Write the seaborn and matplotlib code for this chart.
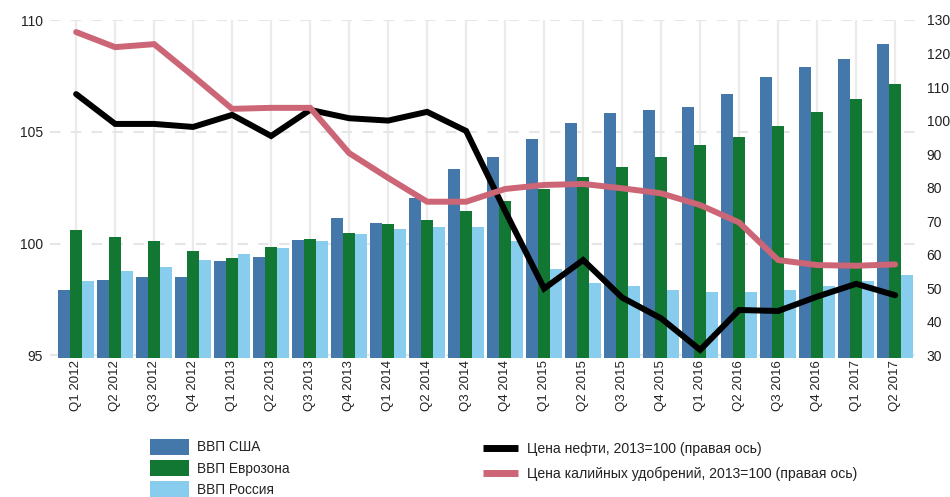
import matplotlib
matplotlib.use("Agg")
import matplotlib.pyplot as plt
import seaborn as sns
import pandas as pd
import numpy as np
from matplotlib.patches import Patch
from matplotlib.lines import Line2D

quarters = ["Q1 2012", "Q2 2012", "Q3 2012", "Q4 2012",
            "Q1 2013", "Q2 2013", "Q3 2013", "Q4 2013",
            "Q1 2014", "Q2 2014", "Q3 2014", "Q4 2014",
            "Q1 2015", "Q2 2015", "Q3 2015", "Q4 2015",
            "Q1 2016", "Q2 2016", "Q3 2016", "Q4 2016",
            "Q1 2017", "Q2 2017"]

gdp_usa = [97.93, 98.37, 98.51, 98.51, 99.22, 99.40, 100.16, 101.15, 100.93, 102.04, 103.34,
           103.88, 104.69, 105.40, 105.85, 105.99, 106.12, 106.70, 107.46, 107.91, 108.27, 108.94]
gdp_euro = [100.61, 100.30, 100.12, 99.67, 99.36, 99.85, 100.21, 100.48, 100.88, 101.06, 101.46,
            101.91, 102.43, 102.99, 103.43, 103.88, 104.42, 104.78, 105.27, 105.90, 106.48, 107.15]
gdp_russia = [98.33, 98.78, 98.96, 99.27, 99.54, 99.81, 100.12, 100.43, 100.66, 100.75, 100.75,
              100.12, 98.87, 98.24, 98.10, 97.93, 97.84, 97.84, 97.93, 98.10, 98.33, 98.60]

oil = [107.9, 99.0, 99.0, 98.1, 101.7, 95.4, 103.2, 100.7, 100.0, 102.6, 96.9,
       73.0, 49.9, 58.4, 47.2, 41.0, 31.6, 43.5, 43.2, 47.5, 51.3, 47.9]
potash = [126.4, 121.9, 122.8, 113.3, 103.5, 103.8, 103.8, 90.3, 82.9, 75.8, 75.8,
          79.6, 80.8, 81.1, 79.8, 78.3, 74.8, 69.6, 58.4, 56.9, 56.7, 57.1]

bar_labels = ["ВВП США", "ВВП Еврозона", "ВВП Россия"]
line_labels = ["Цена нефти, 2013=100 (правая ось)",
               "Цена калийных удобрений, 2013=100 (правая ось)"]
left_ticks = [95, 100, 105, 110]
right_ticks = [30, 40, 50, 60, 70, 80, 90, 100, 110, 120, 130]

bar_colors = ["#4477AA", "#117733", "#88CCEE"]
oil_color = "#000000"
potash_color = "#CC6677"
text_color = "#222222"

sns.set_theme(style="white")
plt.rcParams["font.family"] = ["Liberation Sans", "DejaVu Sans"]

df = pd.DataFrame({
    "quarter": quarters * 3,
    "series": [bar_labels[0]] * len(quarters) + [bar_labels[1]] * len(quarters) + [bar_labels[2]] * len(quarters),
    "value": gdp_usa + gdp_euro + gdp_russia,
})

fig = plt.figure(figsize=(9.5, 4.97), dpi=100)
ax = fig.add_axes([50 / 950, 1 - 357.5 / 497, (917 - 50) / 950, (357.5 - 20) / 497])

sns.barplot(data=df, x="quarter", y="value", hue="series", palette=bar_colors,
            width=0.92, gap=0, saturation=1, legend=False, ax=ax, order=quarters,
            hue_order=bar_labels, edgecolor="none", linewidth=0)

ax.set_ylim(94.9, 110)
ax.set_yticks(left_ticks)
ax.set_xlim(-0.67, 21.56)
ax.set_axisbelow(True)
ax.xaxis.grid(True, color="#ebebeb", linewidth=1.6, linestyle="-")
ax.yaxis.grid(True, color="#e6e6e6", linewidth=1.5, linestyle=(0, (5, 5)))
for s in ax.spines.values():
    s.set_visible(False)
ax.set_xlabel("")
ax.set_ylabel("")
ax.tick_params(axis="x", length=0, pad=2, labelsize=9.5, labelcolor=text_color, labelrotation=90)
ax.tick_params(axis="y", length=0, pad=5, labelsize=10, labelcolor=text_color)

ax2 = ax.twinx()
xpos = np.arange(len(quarters))
sns.lineplot(x=xpos, y=oil, color=oil_color, linewidth=4.3, ax=ax2, solid_joinstyle="miter")
sns.lineplot(x=xpos, y=potash, color=potash_color, linewidth=4.3, ax=ax2, solid_joinstyle="miter")
ax2.set_ylim(30 - 0.1 * 100 / 15, 130)
ax2.set_yticks(right_ticks)
ax2.set_xlim(-0.67, 21.56)
ax2.grid(False)
for s in ax2.spines.values():
    s.set_visible(False)
ax2.tick_params(axis="y", length=0, pad=7, labelsize=10, labelcolor=text_color)
ax2.set_ylabel("")

bar_handles = [Patch(facecolor=c, edgecolor="none") for c in bar_colors]
fig.legend(bar_handles, bar_labels, loc="upper left",
           bbox_to_anchor=(150 / 950, 1 - 439 / 497), frameon=False,
           fontsize=9.8, handlelength=2.9, handleheight=1.42, handletextpad=0.58,
           labelspacing=0.38, borderpad=0, borderaxespad=0, labelcolor=text_color)

line_handles = [Line2D([0], [0], color=oil_color, linewidth=5, solid_capstyle="butt"),
                Line2D([0], [0], color=potash_color, linewidth=5, solid_capstyle="butt")]
fig.legend(line_handles, line_labels, loc="upper left",
           bbox_to_anchor=(483 / 950, 1 - 442 / 497), frameon=False,
           fontsize=10.1, handlelength=2.5, handletextpad=0.65,
           labelspacing=0.75, borderpad=0, borderaxespad=0, labelcolor=text_color)

fig.savefig("out.png", dpi=100)
